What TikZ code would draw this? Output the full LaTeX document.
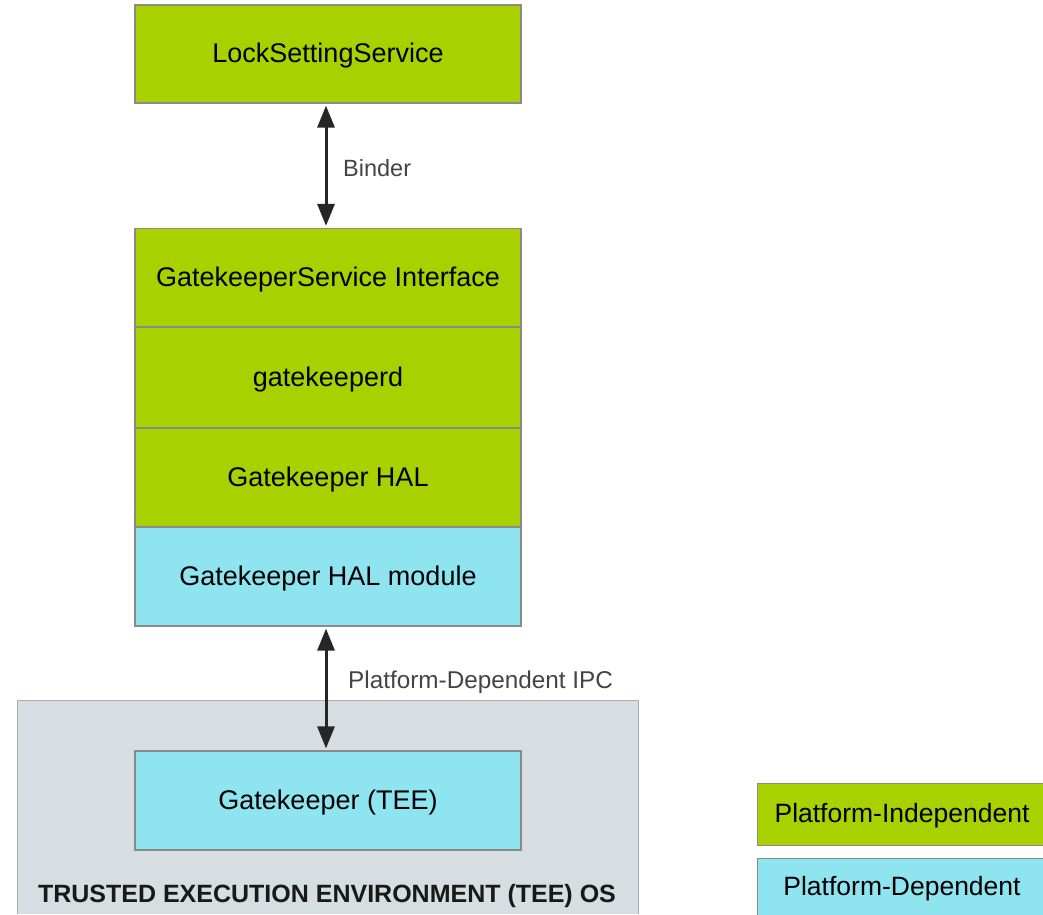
\documentclass[tikz,border=0pt]{standalone}
\usepackage{fontspec}
\setmainfont{Liberation Sans}
\usetikzlibrary{arrows.meta}
\definecolor{pgreen}{HTML}{A9D100}
\definecolor{pcyan}{HTML}{8EE4EF}
\definecolor{teegray}{HTML}{D6DEE1}
\definecolor{edgegray}{HTML}{8A8A8A}
\definecolor{labelgray}{HTML}{444444}
\tikzset{
  blk/.style={draw=edgegray, line width=1.2pt, minimum width=386pt, minimum height=99pt, inner sep=0pt, font=\fontsize{27}{31}\selectfont, text=black},
  greenblk/.style={blk, fill=pgreen},
  cyanblk/.style={blk, fill=pcyan},
  legendblk/.style={draw=edgegray, line width=1pt, inner sep=0pt},
  legendtext/.style={font=\fontsize{26.5}{30}\selectfont, inner sep=0pt, text=black},
  conn/.style={line width=3pt, draw=black!85, {Triangle[length=22pt,width=17pt]}-{Triangle[length=22pt,width=17pt]}, shorten <=2pt, shorten >=2pt},
  conntext/.style={font=\fontsize{23.5}{27}\selectfont, text=labelgray, anchor=west, inner sep=0pt}
}
\begin{document}
\begin{tikzpicture}[x=1pt,y=-1pt]
\useasboundingbox (0,0) rectangle (1043,914);
% TEE OS background
\fill[teegray] (17,700) rectangle (638,914);
\draw[edgegray!70, line width=1pt] (17,914) -- (17,700) -- (638,700) -- (638,914);
\node[font=\bfseries\fontsize{25}{28}\selectfont, text=black!90, inner sep=0pt] (teeos) at (327,896) {TRUSTED EXECUTION ENVIRONMENT (TEE) OS};
% blocks
\node[greenblk, minimum height=98pt] (lss) at (328,54) {};
\node[font=\fontsize{27}{31}\selectfont, inner sep=0pt] (lsst) at (328,56) {LockSettingService};
\node[greenblk] (gsi) at (328,278) {};
\node[font=\fontsize{27}{31}\selectfont, inner sep=0pt] (gsit) at (328,280) {GatekeeperService Interface};
\node[greenblk, minimum height=101pt] (gkd) at (328,377.5) {};
\node[font=\fontsize{27}{31}\selectfont, inner sep=0pt] (gkdt) at (328,380) {gatekeeperd};
\node[greenblk] (hal) at (328,477.5) {};
\node[font=\fontsize{27}{31}\selectfont, inner sep=0pt] (halt) at (328,479.5) {Gatekeeper HAL};
\node[cyanblk] (halm) at (328,576.5) {};
\node[font=\fontsize{27}{31}\selectfont, inner sep=0pt] (halmt) at (328,578.5) {Gatekeeper HAL module};
\node[cyanblk] (tee) at (328,800.5) {};
\node[font=\fontsize{27}{31}\selectfont, inner sep=0pt] (teet) at (328,802.5) {Gatekeeper (TEE)};
% connectors
\draw[conn] (lss.south -| 326,0) -- (gsi.north -| 326,0);
\node[conntext] (binder) at (343,168) {Binder};
\draw[conn] (halm.south -| 326,0) -- (tee.north -| 326,0);
\node[conntext, font=\fontsize{24.3}{27}\selectfont] (ipc) at (348,682) {Platform-Dependent IPC};
% legend
\node[legendblk, fill=pgreen, minimum width=296pt, minimum height=62pt] (lgi) at (905,814) {};
\node[legendtext] (lgit) at (902,816) {Platform-Independent};
\node[legendblk, fill=pcyan, minimum width=296pt, minimum height=70pt] (lgd) at (905,893) {};
\node[legendtext] (lgdt) at (902,889) {Platform-Dependent};
\end{tikzpicture}
\end{document}
